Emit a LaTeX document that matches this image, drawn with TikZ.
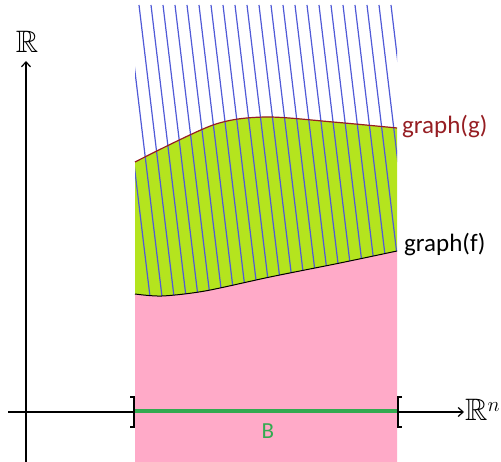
\documentclass[tikz,border=0pt]{standalone}
\usepackage{amssymb}
\usepackage{fontspec}
\setmainfont{Carlito}
\usetikzlibrary{arrows.meta}
\definecolor{pinkfill}{RGB}{255,170,200}
\definecolor{greenfill}{RGB}{180,228,30}
\definecolor{hatchblue}{RGB}{80,90,215}
\definecolor{gred}{RGB}{150,30,35}
\definecolor{bgreen}{RGB}{50,170,80}
\tikzset{
  axis/.style={line width=1.2pt,-{Straight Barb[length=5pt,width=9pt,line width=1.2pt]}},
  lbl/.style={font=\fontsize{25}{28}\selectfont,inner sep=0pt,anchor=west},
  bb/.style={font=\fontsize{31}{34}\selectfont,inner sep=0pt},
  hatch/.style={hatchblue,line width=1.2pt},
  brk/.style={line width=1.2pt}
}
\def\gcurve{(135,162) (213,125) (265,117) (333,122) (397,128)}
\def\fcurve{(135,294) (162,296) (205,291) (270,277) (340,263) (397,251)}
\def\frev{(397,251) (340,263) (270,277) (205,291) (162,296) (135,294)}
\begin{document}
\begin{tikzpicture}[x=1pt,y=-1pt]
\useasboundingbox (0,0) rectangle (501,462);
% pink region
\fill[pinkfill] (135,462) -- plot[smooth] coordinates {\fcurve} -- (397,462) -- cycle;
% green region
\fill[greenfill] plot[smooth] coordinates {\gcurve} -- plot[smooth] coordinates {\frev} -- cycle;
% hatching
\begin{scope}
\clip (135,5) -- (397,5) -- (397,251) -- plot[smooth] coordinates {\frev} -- cycle;
\foreach \k in {0,...,24} {
  \draw[hatch] ({115+12*\k},5) -- ({115+12*\k+0.12*300},305);
}
\end{scope}
% curves
\draw[gred,line width=1.2pt] plot[smooth] coordinates {\gcurve};
\draw[black,line width=1pt] plot[smooth] coordinates {\fcurve};
% axes
\coordinate (xs) at (8,412);
\coordinate (xe) at (464,412);
\coordinate (ys) at (26,462);
\coordinate (ye) at (26,61);
\draw[axis] (xs) -- (xe);
\draw[axis] (ys) -- (ye);
\node[bb] (R) at (27,42) {$\mathbb{R}$};
\node[bb,anchor=west] (Rn) at (465,410) {$\mathbb{R}^n$};
% B segment
\coordinate (b1) at (135,411);
\coordinate (b2) at (397,411);
\draw[bgreen,line width=4pt] (b1) -- (b2);
\draw[brk] (130,397) -- (134,397) -- (134,427) -- (130,427);
\draw[brk] (402,397) -- (398,397) -- (398,427) -- (402,427);
\node[font=\fontsize{23}{26}\selectfont,text=bgreen,inner sep=0pt] (B) at (268,431) {B};
% labels
\node[lbl,text=gred] (gg) at (402,127) {graph(g)};
\node[lbl] (gf) at (404,245) {graph(f)};
\end{tikzpicture}
\end{document}
